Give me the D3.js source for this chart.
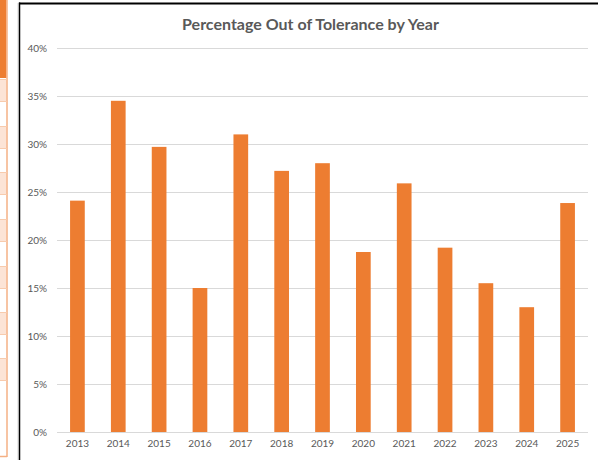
<!DOCTYPE html>
<html>
<head>
<meta charset="utf-8">
<script src="https://cdn.jsdelivr.net/npm/d3@7"></script>
<style>
  body { margin: 0; background: #fff; }
  svg { display: block; }
</style>
</head>
<body>
<div id="theGraph"></div>
<script>
// data
var years = ["2013", "2014", "2015", "2016", "2017", "2018", "2019", "2020", "2021", "2022", "2023", "2024", "2025"];
var pctOut = [24.1, 34.5, 29.7, 15.0, 31.0, 27.2, 28.0, 18.75, 25.9, 19.2, 15.5, 13.0, 23.85];
var yTicks = [0, 5, 10, 15, 20, 25, 30, 35, 40];

const width = 598, height = 460;
const plot = {left: 57, right: 588, top: 48, bottom: 432};

const svg = d3.select("#theGraph")
    .append("svg")
    .attr("width", width)
    .attr("height", height);

// spreadsheet cells peeking in on the left
const cells = svg.append("g");
cells.append("rect")
    .attr("x", -2).attr("y", -2).attr("width", 8.5).attr("height", 80)
    .style("fill", "#ed7d31");
var rowTops = [80, 127, 173, 220, 267, 313, 359];
rowTops.forEach(function (t) {
    cells.append("rect")
        .attr("x", -2).attr("y", t).attr("width", 8.5).attr("height", 21)
        .style("fill", "#fce4d6");
});
cells.append("line")
    .attr("x1", 7).attr("x2", 7).attr("y1", 0).attr("y2", 457)
    .style("stroke", "#f4b084").style("stroke-width", 1.5);
cells.append("line")
    .attr("x1", 0).attr("x2", 7).attr("y1", 456.5).attr("y2", 456.5)
    .style("stroke", "#f4b084").style("stroke-width", 1.5);
rowTops.forEach(function (t) {
    [t, t + 22].forEach(function (yy) {
        cells.append("line")
            .attr("x1", 0).attr("x2", 7).attr("y1", yy - 0.5).attr("y2", yy - 0.5)
            .style("stroke", "#f8cbad").style("stroke-width", 1);
    });
});

// chart frame
svg.append("line")
    .attr("x1", 18).attr("x2", 18).attr("y1", 3).attr("y2", height)
    .style("stroke", "#d9d9d9").style("stroke-width", 1);
svg.append("line")
    .attr("x1", 19.5).attr("x2", 19.5).attr("y1", 2.5).attr("y2", height)
    .style("stroke", "#000").style("stroke-width", 1.5);
svg.append("line")
    .attr("x1", 19).attr("x2", width).attr("y1", 3.5).attr("y2", 3.5)
    .style("stroke", "#000").style("stroke-width", 2);

const xScale = d3.scaleBand()
    .domain(years)
    .range([plot.left, plot.right])
    .paddingInner(0.64)
    .paddingOuter(0.32);

const yScale = d3.scaleLinear()
    .domain([0, 40])
    .range([plot.bottom, plot.top]);

// gridlines + y labels
const yAxis = d3.axisLeft(yScale)
    .tickValues(yTicks)
    .tickSize(-(plot.right - plot.left))
    .tickPadding(10)
    .tickFormat(d => d + "%");

const yG = svg.append("g")
    .attr("transform", `translate(${plot.left},0)`)
    .call(yAxis);
yG.select(".domain").remove();
yG.selectAll(".tick line")
    .style("stroke", "#d9d9d9")
    .style("stroke-width", 1);
yG.selectAll(".tick text")
    .style("font-family", "Lato, 'Open Sans', sans-serif")
    .style("font-size", "10px")
    .style("fill", "#595959");

// bars
svg.append("g")
    .selectAll("rect")
    .data(years)
    .enter()
    .append("rect")
    .attr("x", d => xScale(d))
    .attr("y", (d, i) => yScale(pctOut[i]))
    .attr("width", xScale.bandwidth())
    .attr("height", (d, i) => yScale(0) - yScale(pctOut[i]))
    .style("fill", "#ed7d31");

// x labels
const xAxis = d3.axisBottom(xScale).tickSize(0).tickPadding(8);
const xG = svg.append("g")
    .attr("transform", `translate(0,${plot.bottom})`)
    .call(xAxis);
xG.select(".domain").remove();
xG.selectAll(".tick text")
    .style("font-family", "Lato, 'Open Sans', sans-serif")
    .style("font-size", "10px")
    .style("fill", "#595959");

// title
svg.append("text")
    .attr("x", 310.5)
    .attr("y", 30)
    .attr("text-anchor", "middle")
    .style("font-family", "Lato, 'Open Sans', sans-serif")
    .style("font-weight", "bold")
    .style("font-size", "16px")
    .style("fill", "#595959")
    .text("Percentage Out of Tolerance by Year");
</script>
</body>
</html>
